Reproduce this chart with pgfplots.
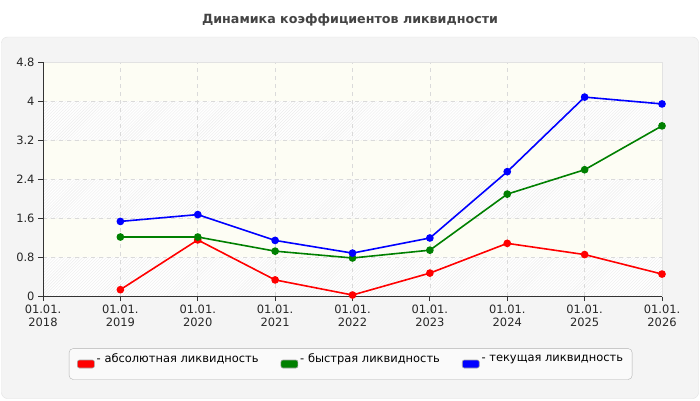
\documentclass[border=0pt]{standalone}
\usepackage{fontspec}
\setmainfont{DejaVu Sans}
\usepackage{pgfplots}
\pgfplotsset{compat=1.18}
\usetikzlibrary{patterns}

\definecolor{panelbg}{RGB}{244,244,244}
\definecolor{panelborder}{RGB}{226,226,226}
\definecolor{titlegray}{RGB}{68,68,68}
\definecolor{bandyellow}{RGB}{253,253,244}
\definecolor{hatchgray}{RGB}{236,236,236}
\definecolor{gridgray}{RGB}{218,218,218}
\definecolor{legendbg}{RGB}{250,250,250}
\definecolor{liqred}{RGB}{255,0,0}
\definecolor{liqgreen}{RGB}{0,128,0}
\definecolor{liqblue}{RGB}{0,0,255}

\begin{document}
\begin{tikzpicture}[x=1bp,y=1bp]
	\fill[white] (0,0) rectangle (700,400);
	\draw[draw=panelborder, fill=panelbg, rounded corners=6bp] (1.5,1.5) rectangle (698.5,363);
	\node[font=\bfseries\fontsize{12.7}{15}\selectfont, text=titlegray] at (350,380) {Динамика коэффициентов ликвидности};

	% plot area: white, alternating yellowish and hatched bands
	\fill[white] (43,104) rectangle (662,338);
	\fill[bandyellow] (43,143) rectangle (662,182);
	\fill[bandyellow] (43,221) rectangle (662,260);
	\fill[bandyellow] (43,299) rectangle (662,338);
	\fill[pattern=north east lines, pattern color=hatchgray] (43,104) rectangle (662,143);
	\fill[pattern=north east lines, pattern color=hatchgray] (43,182) rectangle (662,221);
	\fill[pattern=north east lines, pattern color=hatchgray] (43,260) rectangle (662,299);

	\begin{axis}[
		at={(43bp,104bp)}, anchor=south west,
		scale only axis,
		width=619bp, height=234bp,
		xmin=2018, xmax=2026,
		ymin=0, ymax=4.8,
		xtick={2018,2019,2020,2021,2022,2023,2024,2025,2026},
		xticklabels={{01.01.\\2018},{01.01.\\2019},{01.01.\\2020},{01.01.\\2021},{01.01.\\2022},{01.01.\\2023},{01.01.\\2024},{01.01.\\2025},{01.01.\\2026}},
		ytick={0,0.8,1.6,2.4,3.2,4,4.8},
		yticklabels={0,0.8,1.6,2.4,3.2,4,4.8},
		xticklabel style={align=center, font=\fontsize{11.5}{13.3}\selectfont},
		yticklabel style={font=\fontsize{11.5}{13.3}\selectfont},
		tick label style={text=black!85},
		/pgf/number format/assume math mode=true,
		xtick pos=left, ytick pos=left,
		tick align=outside,
		major tick length=5bp,
		tick style={black!80, line width=0.8bp},
		axis line style={panelborder, line width=0.8bp},
		grid=major,
		grid style={gridgray, line width=0.7bp, dash pattern=on 4bp off 4bp},
		legend columns=3,
		legend style={
			at={(0.497,-0.2906)}, anchor=center,
			draw=black!30, fill=legendbg, rounded corners=4bp,
			inner xsep=8bp, inner ysep=4bp,
			font=\fontsize{11.5}{13.3}\selectfont,
			nodes={text depth=12bp, inner sep=1bp},
			/tikz/every odd column/.append style={column sep=1bp},
			/tikz/every even column/.append style={column sep=21bp},
		},
		legend image code/.code={
			\draw[rounded corners=2bp, line width=0.6bp, draw=black!35, fill] (0bp,-4bp) rectangle (17bp,4bp);
		},
	]

		\addplot[color=liqred, line width=1.6bp, mark=*, mark size=3bp, mark options={solid}]
			coordinates {
				(2019,0.13)
				(2020,1.15)
				(2021,0.33)
				(2022,0.02)
				(2023,0.47)
				(2024,1.08)
				(2025,0.85)
				(2026,0.45)
			};

		\addplot[color=liqgreen, line width=1.6bp, mark=*, mark size=3bp, mark options={solid}]
			coordinates {
				(2019,1.21)
				(2020,1.21)
				(2021,0.92)
				(2022,0.78)
				(2023,0.94)
				(2024,2.09)
				(2025,2.59)
				(2026,3.49)
			};

		\addplot[color=liqblue, line width=1.6bp, mark=*, mark size=3bp, mark options={solid}]
			coordinates {
				(2019,1.53)
				(2020,1.67)
				(2021,1.14)
				(2022,0.88)
				(2023,1.19)
				(2024,2.55)
				(2025,4.08)
				(2026,3.94)
			};

		\legend{- абсолютная ликвидность, - быстрая ликвидность, - текущая ликвидность}

		\draw[black!80, line width=0.9bp] (rel axis cs:0,1) -- (rel axis cs:0,0) -- (rel axis cs:1,0);
	\end{axis}
\end{tikzpicture}
\end{document}
